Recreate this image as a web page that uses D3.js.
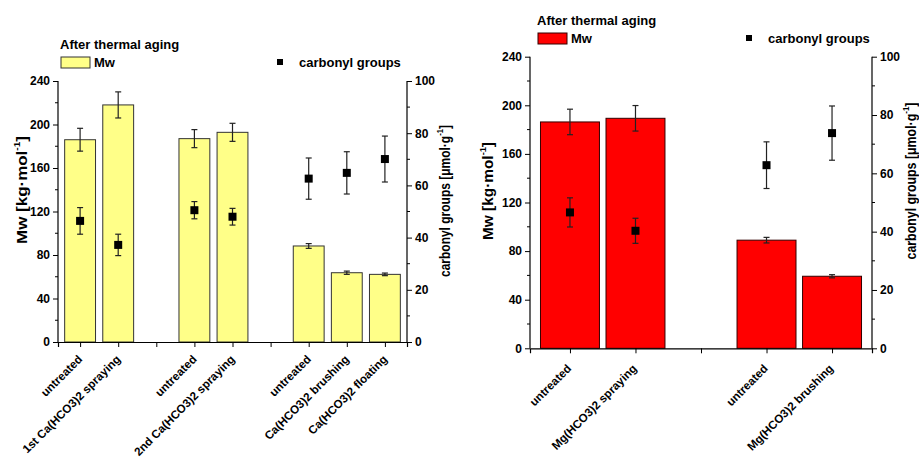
<!DOCTYPE html>
<html><head><meta charset="utf-8">
<script src="https://cdn.jsdelivr.net/npm/d3@7"></script>
<style>
body{margin:0;background:#fff;}
svg{display:block;font-family:"Liberation Sans",Arial,sans-serif;font-weight:bold;}
</style></head>
<body><svg id="c" width="919" height="461"></svg>
<script>
// ---- data ----
const legendTitle = "After thermal aging";
const mwLabel = "Mw";
const carbonylLabel = "carbonyl groups";
const mwTicks = [0, 40, 80, 120, 160, 200, 240];
const carbonylTicks = [0, 20, 40, 60, 80, 100];

const leftCategories = ["untreated", "1st Ca(HCO3)2 spraying", "", "untreated", "2nd Ca(HCO3)2 spraying", "", "untreated", "Ca(HCO3)2 brushing", "Ca(HCO3)2 floating"];
const leftMw = [186, 218, null, 187, 192.8, null, 88.3, 63.7, 62.2];
const leftMwErr = [10.5, 12, null, 8.3, 8.3, null, 2.2, 1.5, 1.2];
const leftCarbonyl = [46.4, 37.2, null, 50.5, 48, null, 62.6, 64.8, 70.1];
const leftCarbonylErr = [5.1, 4.1, null, 3.3, 3.2, null, 7.9, 8.1, 8.8];

const rightCategories = ["untreated", "Mg(HCO3)2 spraying", "", "untreated", "Mg(HCO3)2 brushing"];
const rightMw = [186.3, 189.3, null, 89, 59.3];
const rightMwErr = [10.5, 10.5, null, 2.3, 1.3];
const rightCarbonyl = [46.6, 40.3, null, 62.8, 73.8];
const rightCarbonylErr = [5, 4.3, null, 8, 9.3];

const svg = d3.select("#c");

function panel(cfg) {
  const g = svg.append("g");
  const n = cfg.categories.length;
  const x = d3.scalePoint().domain(d3.range(n)).range([cfg.x0, cfg.x1]).padding(cfg.pad);
  const step = x.step();
  const bw = step * cfg.barFrac;
  const yL = d3.scaleLinear().domain([0, 240]).range([cfg.yb, cfg.yt]);
  const yR = d3.scaleLinear().domain([0, 100]).range([cfg.yb, cfg.yt]);

  // bars
  const idx = d3.range(n).filter(i => cfg.mw[i] != null);
  g.selectAll("rect.bar").data(idx).join("rect")
    .attr("x", i => x(i) - bw / 2).attr("width", bw)
    .attr("y", i => yL(cfg.mw[i])).attr("height", i => yL(0) - yL(cfg.mw[i]))
    .attr("fill", cfg.fill).attr("stroke", cfg.stroke).attr("stroke-width", 1);

  function errBars(vals, errs, scale, cap, color) {
    const eg = g.append("g").attr("stroke", color).attr("stroke-width", 1.2);
    idx.forEach(i => {
      const cx = x(i), t = scale(vals[i] + errs[i]), b = scale(vals[i] - errs[i]);
      eg.append("line").attr("x1", cx).attr("x2", cx).attr("y1", t).attr("y2", b);
      eg.append("line").attr("x1", cx - cap).attr("x2", cx + cap).attr("y1", t).attr("y2", t);
      eg.append("line").attr("x1", cx - cap).attr("x2", cx + cap).attr("y1", b).attr("y2", b);
    });
  }
  errBars(cfg.mw, cfg.mwErr, yL, 3, "#222");
  errBars(cfg.carb, cfg.carbErr, yR, 3, "#222");
  g.selectAll("rect.pt").data(idx).join("rect")
    .attr("x", i => x(i) - 4).attr("y", i => yR(cfg.carb[i]) - 4)
    .attr("width", 8).attr("height", 8).attr("fill", "#000");

  // axes
  const axL = d3.axisLeft(yL).tickValues(mwTicks).tickSize(5).tickPadding(3);
  const axR = d3.axisRight(yR).tickValues(carbonylTicks).tickSize(5).tickPadding(3);
  const axB = d3.axisBottom(x).tickSize(5).tickFormat(() => "");
  const gl = g.append("g").attr("transform", `translate(${cfg.x0},0)`).call(axL);
  const gr = g.append("g").attr("transform", `translate(${cfg.x1},0)`).call(axR);
  const gb = g.append("g").attr("transform", `translate(0,${cfg.yb})`).call(axB);
  [gl, gr, gb].forEach(a => {
    a.select(".domain").attr("stroke", "#000").attr("stroke-width", 1.2);
    a.selectAll(".tick line").attr("stroke", "#000");
    a.selectAll("text").attr("font-size", 12).attr("font-weight", "bold").attr("fill", "#000").attr("font-family", "Liberation Sans, Arial, sans-serif");
  });
  gl.select(".domain").attr("d", `M0,${cfg.yb}V${cfg.yt}`);
  gr.select(".domain").attr("d", `M0,${cfg.yb}V${cfg.yt}`);
  // minor ticks
  d3.range(20, 240, 40).forEach(v => g.append("line").attr("x1", cfg.x0 - 3).attr("x2", cfg.x0).attr("y1", yL(v)).attr("y2", yL(v)).attr("stroke", "#000"));
  d3.range(10, 100, 20).forEach(v => g.append("line").attr("x1", cfg.x1).attr("x2", cfg.x1 + 3).attr("y1", yR(v)).attr("y2", yR(v)).attr("stroke", "#000"));

  // category labels
  d3.range(n).forEach(i => {
    if (!cfg.categories[i]) return;
    g.append("text").attr("transform", `translate(${x(i) + cfg.ldx},${cfg.yb + cfg.ldy}) rotate(-45)`)
      .attr("text-anchor", "end").attr("font-size", 11.6).text(cfg.categories[i]);
  });

  // axis titles
  const tl = g.append("text").attr("transform", `translate(${cfg.tlx},${cfg.tly}) rotate(-90)`)
    .attr("text-anchor", "middle").attr("font-size", 15)
    .attr("textLength", cfg.tlLen).attr("lengthAdjust", "spacingAndGlyphs");
  tl.append("tspan").text("Mw [kg·mol");
  tl.append("tspan").attr("font-size", 9).attr("dy", -7).text("-1");
  tl.append("tspan").attr("dy", 7).text("]");
  const tr = g.append("text").attr("transform", `translate(${cfg.trx},${cfg.try}) rotate(-90)`)
    .attr("text-anchor", "middle").attr("font-size", 14)
    .attr("textLength", cfg.trLen).attr("lengthAdjust", "spacingAndGlyphs");
  tr.append("tspan").text("carbonyl groups [μmol·g");
  tr.append("tspan").attr("font-size", 9).attr("dy", -7).text("-1");
  tr.append("tspan").attr("dy", 7).text("]");

  // legend
  g.append("text").attr("x", cfg.lgx).attr("y", cfg.lgy).attr("font-size", 13).text(legendTitle);
  g.append("rect").attr("x", cfg.lgx + 1).attr("y", cfg.lgy + 8).attr("width", 29).attr("height", 11)
    .attr("fill", cfg.fill).attr("stroke", cfg.stroke);
  g.append("text").attr("x", cfg.lgx + 34).attr("y", cfg.lgy + 18).attr("font-size", 13).text(mwLabel);
  g.append("rect").attr("x", cfg.cgx - 3).attr("y", cfg.lgy + 10).attr("width", 6).attr("height", 6).attr("fill", "#000");
  g.append("text").attr("x", cfg.cgx + 19).attr("y", cfg.lgy + 18).attr("font-size", 13).text(carbonylLabel);
}

panel({categories: leftCategories, mw: leftMw, mwErr: leftMwErr, carb: leftCarbonyl, carbErr: leftCarbonylErr,
  x0: 58, x1: 407, yt: 81, yb: 342, pad: 0.58, barFrac: 0.81, fill: "#FFFF88", stroke: "#333",
  ldx: 3, ldy: 18,
  tlx: 27, tly: 190, tlLen: 108, trx: 450, try: 201, trLen: 152, lgx: 60, lgy: 49, cgx: 280});
panel({categories: rightCategories, mw: rightMw, mwErr: rightMwErr, carb: rightCarbonyl, carbErr: rightCarbonylErr,
  x0: 530, x1: 872, yt: 56.7, yb: 348.3, pad: 0.61, barFrac: 0.9, fill: "#FF0000", stroke: "#300",
  ldx: 2, ldy: 21,
  tlx: 493, tly: 191, tlLen: 98, trx: 916, try: 181, trLen: 157, lgx: 537, lgy: 25, cgx: 749});
</script></body></html>
